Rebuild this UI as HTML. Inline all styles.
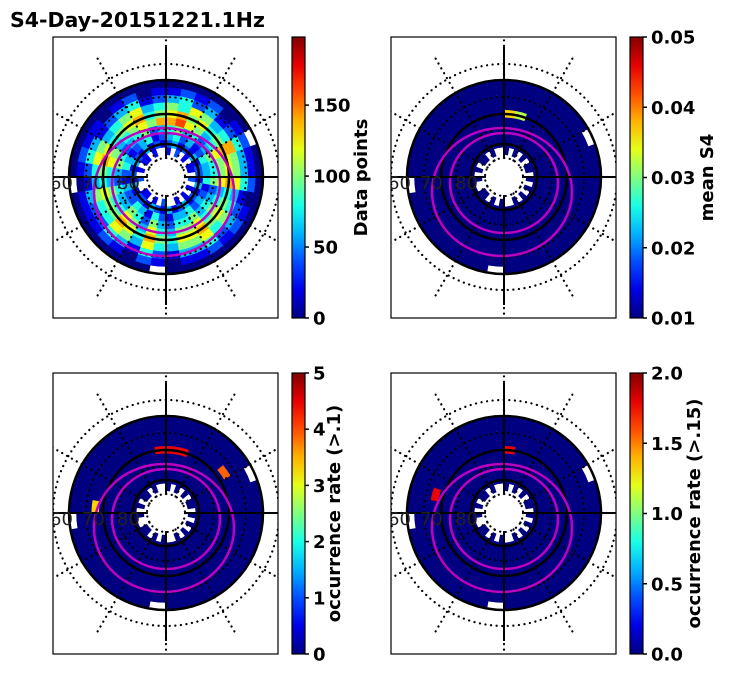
<!DOCTYPE html>
<html><head><meta charset="utf-8"><style>
html,body{margin:0;padding:0;background:#fff;width:731px;height:674px;overflow:hidden}
svg text{font-family:"DejaVu Sans","Liberation Sans",sans-serif}
</style></head><body>
<svg id="fig" width="731" height="674" viewBox="0 0 731 674" xmlns="http://www.w3.org/2000/svg">
<text x="10" y="27" font-size="20.5" font-weight="bold">S4-Day-20151221.1Hz</text>
</svg>
<script>
// Ring data: inner -> outer, 36 sectors clockwise from top; digit = level 0..9, '.' = no data
const ringsDataPoints = [
"1.2.1.11.2.1.1.1..2.1.11..2.1.11.1..",
"231213122131213213123122131213213121",
"342312433412324331241342231243123412",
"453423544523435442352453342354234523",
"786534655634546553463564453465345657",
"675645766745657664574675564576456745",
"546534755634546553463564453465345634",
"342312433412324331241342231243123412",
"121201211201212110120121110121101201",
"000000.00000000000.0000000.000000000"];
const ringsMeanS4 = [
"0.0.0.00.0.0.0.0..0.0.00..0.0.00.0..",
"000000000000000000000000000000000000",
"000000000000000000000000000000000000",
"000000000000000000000000000000000000",
"000000000000000000000000000000000000",
"650000000000000000000000000000000000",
"000000000000000000000000000000000000",
"000000000000000000000000000000000000",
"000000000000000000000000000000000000",
"000000.00000000000.0000000.000000000"];
const ringsOcc1 = [
"0.0.0.00.0.0.0.0..0.0.00..0.0.00.0..",
"000000000000000000000000000000000000",
"000000000000000000000000000000000000",
"000000000000000000000000000000000000",
"000000000000000000000000000000000000",
"880000000000000000000000000000000008",
"000007000000000000000000000600000000",
"000000000000000000000000000000000000",
"000000000000000000000000000000000000",
"000000.00000000000.0000000.000000000"];
const ringsOcc15 = [
"0.0.0.00.0.0.0.0..0.0.00..0.0.00.0..",
"000000000000000000000000000000000000",
"000000000000000000000000000000000000",
"000000000000000000000000000000000000",
"000000000000000000000000000000000000",
"800000000000000000000000000000000000",
"000000000000000000000000000080000000",
"000000000000000000000000000000000000",
"000000000000000000000000000000000000",
"000000.00000000000.0000000.000000000"];
const ticksDataPoints = ["0","50","100","150"];
const ticksMeanS4 = ["0.01","0.02","0.03","0.04","0.05"];
const ticksOcc1 = ["0","1","2","3","4","5"];
const ticksOcc15 = ["0.0","0.5","1.0","1.5","2.0"];
const latLabels = ["60","70","80"];

const NS="http://www.w3.org/2000/svg";
const svg=document.getElementById('fig');
function el(t,a,p){const e=document.createElementNS(NS,t);for(const k in a)e.setAttribute(k,a[k]);(p||svg).appendChild(e);return e;}
function jet(v){v=Math.max(0,Math.min(1,v));
 const r=Math.max(0,Math.min(1,1.5-Math.abs(4*v-3))),g=Math.max(0,Math.min(1,1.5-Math.abs(4*v-2))),b=Math.max(0,Math.min(1,1.5-Math.abs(4*v-1)));
 return `rgb(${Math.round(r*255)},${Math.round(g*255)},${Math.round(b*255)})`;}
function pt(cx,cy,r,a){const t=a*Math.PI/180;return [cx+r*Math.sin(t),cy-r*Math.cos(t)];}
function sector(cx,cy,r1,r2,a1,a2){const p1=pt(cx,cy,r2,a1),p2=pt(cx,cy,r2,a2),p3=pt(cx,cy,r1,a2),p4=pt(cx,cy,r1,a1);
 return `M${p1}A${r2},${r2} 0 0 1 ${p2}L${p3}A${r1},${r1} 0 0 0 ${p4}Z`;}

const panels=[
 {id:'data-points',x:53,y:37,rings:ringsDataPoints,vmin:0,vmax:198,levelMax:180,ticks:ticksDataPoints,label:'Data points',lx:367},
 {id:'mean-s4',x:391,y:37,rings:ringsMeanS4,vmin:0.01,vmax:0.05,levelMax:0.05,ticks:ticksMeanS4,label:'mean S4',lx:713},
 {id:'occurrence-1',x:53,y:373,rings:ringsOcc1,vmin:0,vmax:5,levelMax:5,ticks:ticksOcc1,label:'occurrence rate (>.1)',lx:340},
 {id:'occurrence-15',x:391,y:373,rings:ringsOcc15,vmin:0,vmax:2,levelMax:2,ticks:ticksOcc15,label:'occurrence rate (>.15)',lx:700}];
const W=225,H=281,R0=22,RW=7.5;
panels.forEach((p,pi)=>{
 const cx=p.x+113,cy=p.y+140;
 const cp=el('clipPath',{id:'clip'+pi});el('rect',{x:p.x,y:p.y,width:W,height:H},cp);
 const g=el('g',{'clip-path':`url(#clip${pi})`});
 
 
 p.rings.forEach((row,ri)=>{
  for(let s=0;s<36;s++){const c=row[s];if(!c||c==='.')continue;
   const val=p.vmin+(+c/9)*(p.levelMax-p.vmin);
   const cell=el('path',{d:sector(cx,cy,R0+ri*RW,R0+(ri+1)*RW+0.3,s*10,(s+1)*10+0.3),fill:jet((val-p.vmin)/(p.vmax-p.vmin))},g);
   
   
  }});
 [19,48,80,113].forEach(r=>el('circle',{cx,cy,r,fill:'none',stroke:'#000','stroke-width':2.2,'stroke-dasharray':'0.1 5.5','stroke-linecap':'round'},g));
 for(let a=0;a<360;a+=30){const q1=pt(cx,cy,19,a),q2=pt(cx,cy,140,a);
  el('line',{x1:q1[0],y1:q1[1],x2:q2[0],y2:q2[1],stroke:'#000','stroke-width':2.2,'stroke-dasharray':'0.1 5.5','stroke-linecap':'round'},g);}
 [33,63,97].forEach(r=>el('circle',{cx,cy,r,fill:'none',stroke:'#000','stroke-width':2.5},g));
 el('ellipse',{cx:cx-2,cy:cy+15,rx:70,ry:64,fill:'none',stroke:'#c000c0','stroke-width':2.5},g);
 el('ellipse',{cx:cx,cy:cy+6,rx:54,ry:50,fill:'none',stroke:'#c000c0','stroke-width':2.5},g);
 el('line',{x1:cx,y1:cy-130,x2:cx,y2:cy-20,stroke:'#000','stroke-width':2},g);
 el('line',{x1:cx,y1:cy+20,x2:cx,y2:cy+128,stroke:'#000','stroke-width':2},g);
 el('line',{x1:p.x,y1:cy,x2:cx-20,y2:cy,stroke:'#000','stroke-width':2},g);
 el('line',{x1:cx+20,y1:cy,x2:p.x+W,y2:cy,stroke:'#000','stroke-width':2},g);
 latLabels.forEach((t,i)=>{const tx=el('text',{x:p.x+(i===0?-3:i===1?29:64),y:cy+12,'font-size':18,fill:'#222'},g);tx.textContent=t;
  
  });
 const frame=el('rect',{x:p.x,y:p.y,width:W,height:H,fill:'none',stroke:'#000','stroke-width':1.2});
 
 
 const bx=p.x+239,bw=13;
 const gr=el('linearGradient',{id:'jet'+pi,x1:0,y1:1,x2:0,y2:0});
 for(let i=0;i<=10;i++)el('stop',{offset:i/10,'stop-color':jet(i/10)},gr);
 const bar=el('rect',{x:bx,y:p.y,width:bw,height:H,fill:`url(#jet${pi})`,stroke:'#000','stroke-width':1.2});
 
 
 p.ticks.forEach(t=>{const v=parseFloat(t);const ty=p.y+H-(v-p.vmin)/(p.vmax-p.vmin)*H;
  el('line',{x1:bx+bw,y1:ty,x2:bx+bw+4,y2:ty,stroke:'#000','stroke-width':1.5});
  const tx=el('text',{x:bx+bw+8,y:ty+6.5,'font-size':18,'font-weight':'bold'});tx.textContent=t;
  
  });
 const lb=el('text',{x:p.lx,y:p.y+H/2,'font-size':18,'font-weight':'bold','text-anchor':'middle',transform:`rotate(-90 ${p.lx} ${p.y+H/2})`});
 lb.textContent=p.label;
 
 
});
</script>
</body></html>
